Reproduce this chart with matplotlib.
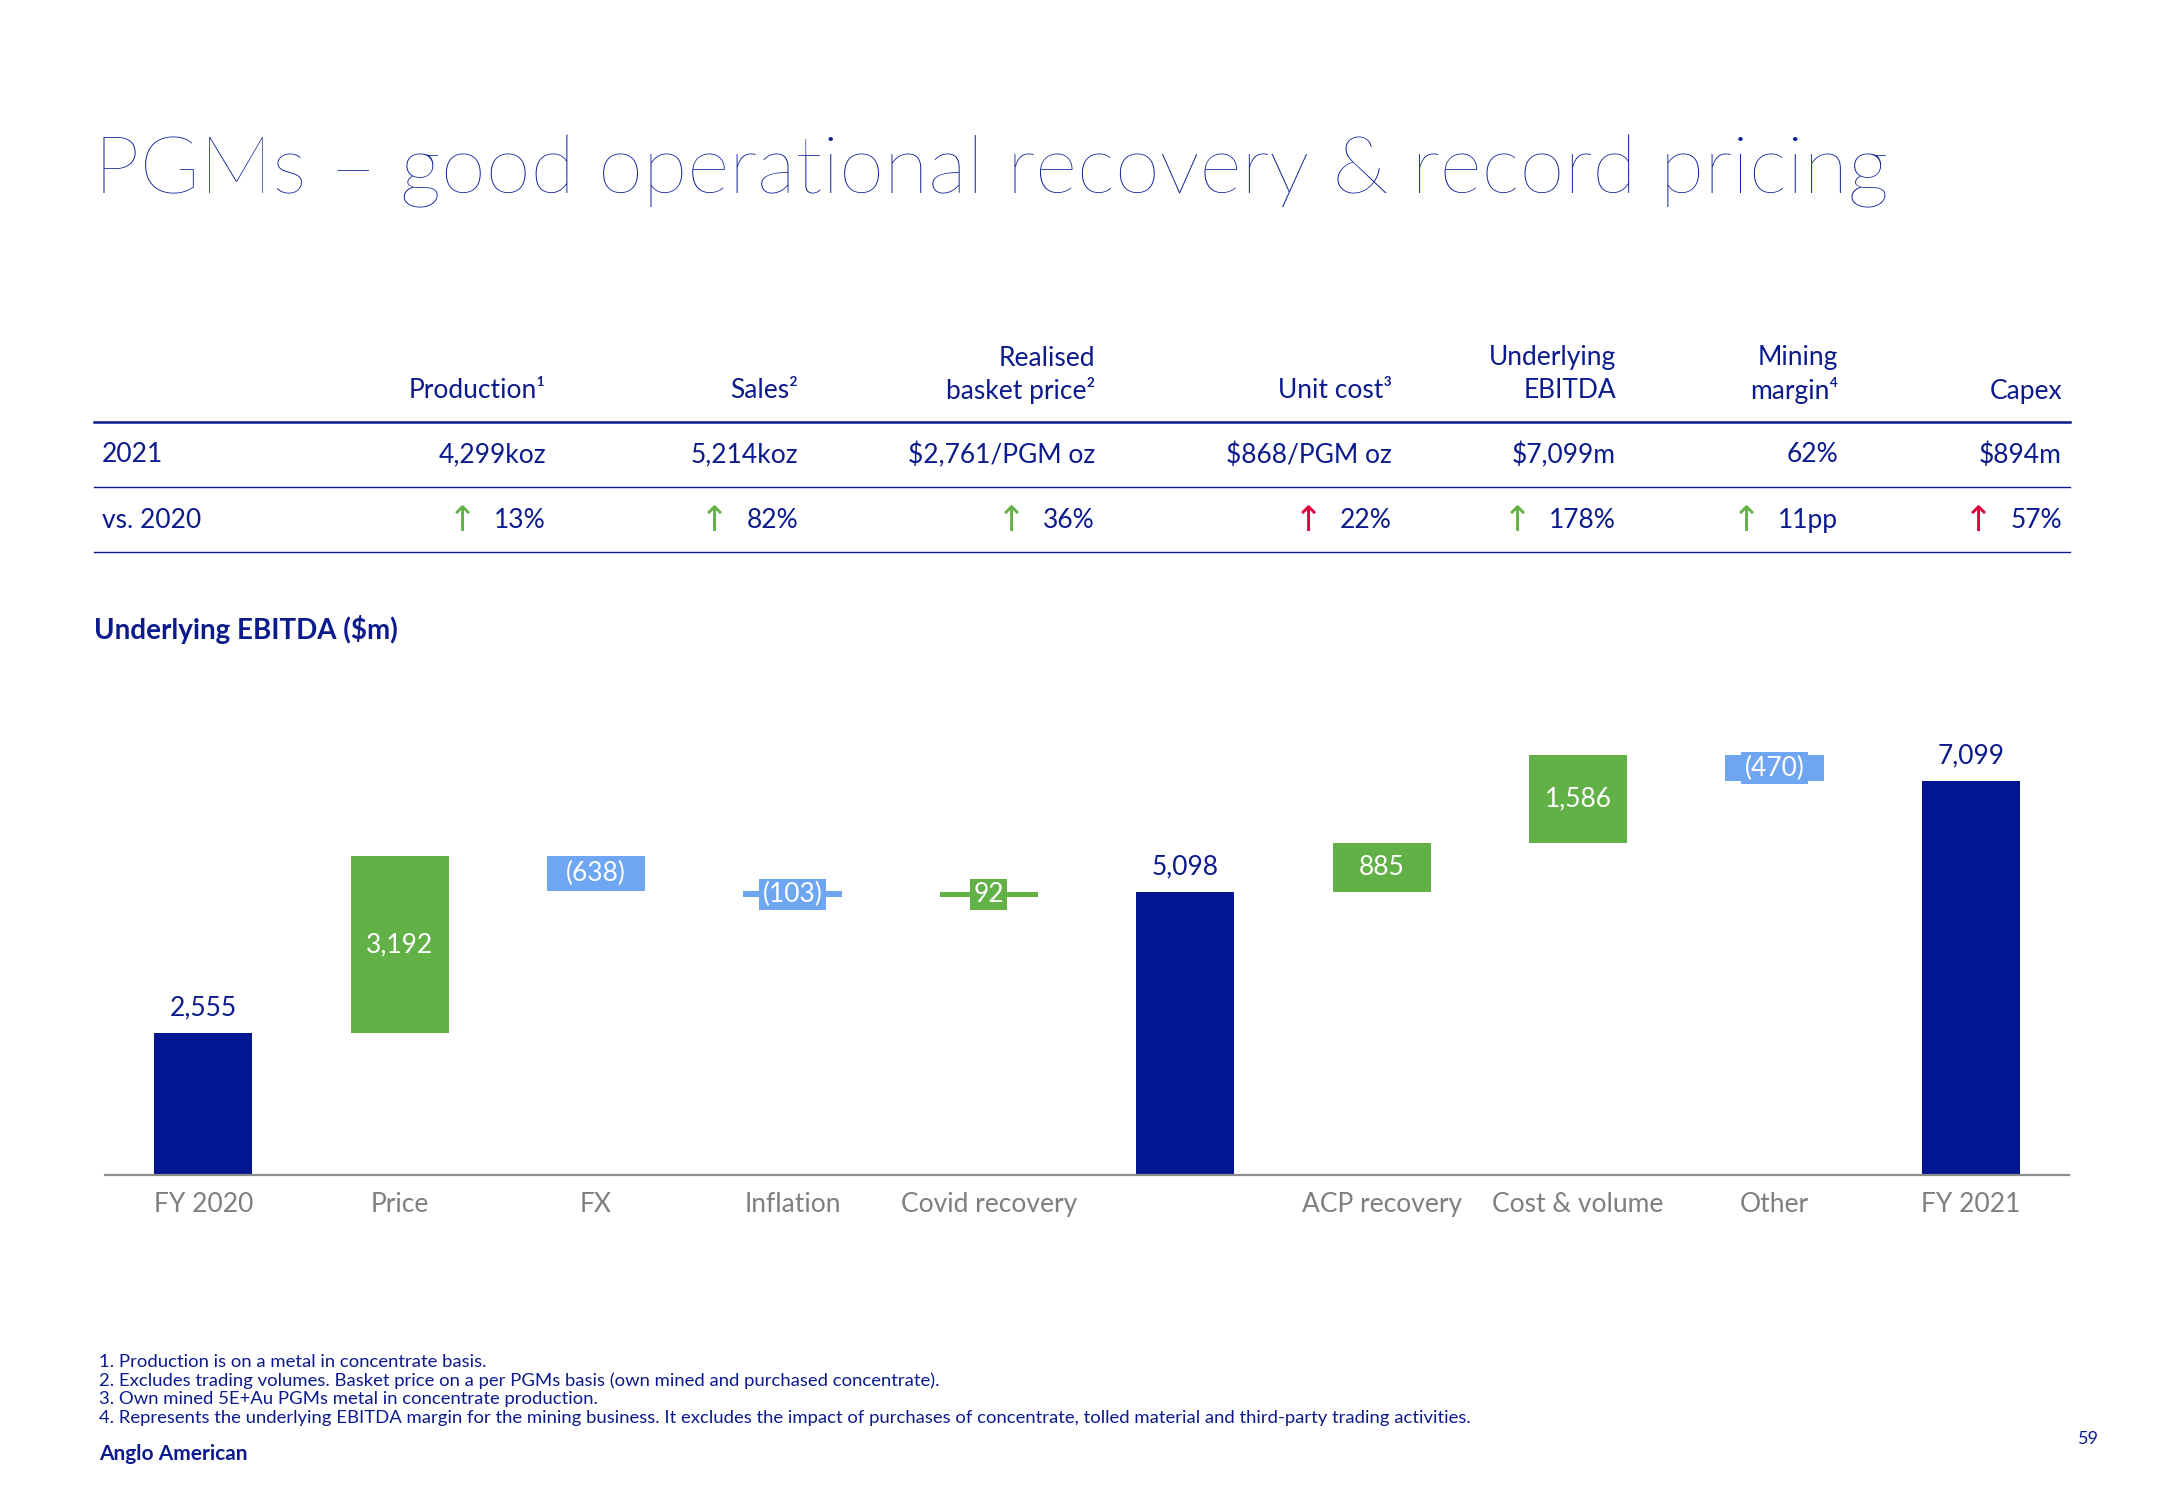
import matplotlib
matplotlib.use("Agg")
import matplotlib.pyplot as plt

plt.rcParams['font.family'] = ['Lato', 'DejaVu Sans']

NAVY = '#0B1A8C'
TITLE_BLUE = '#0A1E96'
BAR_NAVY = '#021691'
GREEN = '#62B146'
LIGHT_BLUE = '#6FA6F2'
RED = '#E2003C'
GREY = '#7F7F7F'

# summary table
header_top = ["", "", "", "Realised", "", "Underlying", "Mining", ""]
header_bottom = ["", "Production¹", "Sales²", "basket price²", "Unit cost³", "EBITDA", "margin⁴", "Capex"]
row_2021 = ["2021", "4,299koz", "5,214koz", "$2,761/PGM oz", "$868/PGM oz", "$7,099m", "62%", "$894m"]
row_vs = ["vs. 2020", "13%", "82%", "36%", "22%", "178%", "11pp", "57%"]
row_good = [None, True, True, True, False, True, True, False]

# waterfall (underlying EBITDA, $m)
steps = ["FY 2020", "Price", "FX", "Inflation", "Covid recovery", "",
         "ACP recovery", "Cost & volume", "Other", "FY 2021"]
values = [2555, 3192, -638, -103, 92, 5098, 885, 1586, -470, 7099]
is_total = [True, False, False, False, False, True, False, False, False, True]

footnotes = [
    "1. Production is on a metal in concentrate basis.",
    "2. Excludes trading volumes. Basket price on a per PGMs basis (own mined and purchased concentrate).",
    "3. Own mined 5E+Au PGMs metal in concentrate production.",
    "4. Represents the underlying EBITDA margin for the mining business. It excludes the impact of purchases of concentrate, tolled material and third-party trading activities.",
]

W, H = 2166, 1500
fig = plt.figure(figsize=(W / 100, H / 100), dpi=100)


def fx(x):
    return x / W


def fy(y):
    return 1 - y / H


# title
fig.text(fx(94), fy(193), "PGMs – good operational recovery & record pricing",
         fontsize=58.6, color=TITLE_BLUE, va='baseline', ha='left', fontweight='light')

# table
col_right = [None, 546, 798, 1095, 1392, 1616, 1838, 2062]
for i in range(1, 8):
    if header_top[i]:
        fig.text(fx(col_right[i]), fy(358), header_top[i], ha='right', va='center',
                 fontsize=19, color=NAVY)
    fig.text(fx(col_right[i]), fy(391), header_bottom[i], ha='right', va='center',
             fontsize=19, color=NAVY)

fig.add_artist(plt.Line2D([fx(94), fx(2070)], [fy(422), fy(422)], color=NAVY, lw=1.8))
fig.add_artist(plt.Line2D([fx(94), fx(2070)], [fy(487), fy(487)], color=NAVY, lw=1.0))
fig.add_artist(plt.Line2D([fx(94), fx(2070)], [fy(552), fy(552)], color=NAVY, lw=1.0))

fig.text(fx(102), fy(455), row_2021[0], ha='left', va='center', fontsize=19, color=NAVY)
fig.text(fx(102), fy(521), row_vs[0], ha='left', va='center', fontsize=19, color=NAVY)

vs_texts = []
for i in range(1, 8):
    fig.text(fx(col_right[i]), fy(455), row_2021[i], ha='right', va='center',
             fontsize=19, color=NAVY)
    t = fig.text(fx(col_right[i]), fy(521), row_vs[i], ha='right', va='center',
                 fontsize=19, color=NAVY)
    vs_texts.append(t)

fig.text(fx(94), fy(630), "Underlying EBITDA ($m)", ha='left', va='center',
         fontsize=20, color=NAVY, fontweight='bold')

# waterfall chart
ax = fig.add_axes([fx(105), fy(1175), fx(2069) - fx(105), fy(700) - fy(1175)])
running = 0
for i, (v, tot) in enumerate(zip(values, is_total)):
    if tot:
        bottom, height, color = 0, v, BAR_NAVY
        running = v
    else:
        bottom = running if v > 0 else running + v
        height = abs(v)
        color = GREEN if v > 0 else LIGHT_BLUE
        running += v
    ax.bar(i, height, bottom=bottom, width=0.5, color=color)
    label = f"{v:,}" if v > 0 else f"({-v:,})"
    if tot:
        ax.annotate(label, (i, v), xytext=(0, 9), textcoords='offset points',
                    ha='center', va='bottom', fontsize=19, color=NAVY)
    else:
        ax.text(i, bottom + height / 2, label, ha='center', va='center',
                fontsize=19, color='white',
                bbox=dict(boxstyle='square,pad=0.12', fc=color, ec='none'))

ax.set_xlim(-0.5, 9.5)
ax.set_ylim(0, 8560)
ax.set_xticks(range(len(steps)))
ax.set_xticklabels(steps, fontsize=19, color=GREY)
ax.tick_params(axis='x', length=0, pad=12)
ax.set_yticks([])
for s in ['top', 'right', 'left']:
    ax.spines[s].set_visible(False)
ax.spines['bottom'].set_color('#8C8C8C')
ax.spines['bottom'].set_linewidth(1.6)

# arrows next to the vs. 2020 values
fig.canvas.draw()
renderer = fig.canvas.get_renderer()
for i, t in enumerate(vs_texts, start=1):
    bb = t.get_window_extent(renderer)
    arrow_color = GREEN if row_good[i] else RED
    fig.text((bb.x0 - 32) / W, fy(521), "↑", ha='center', va='center',
             fontsize=25, color=arrow_color, family='DejaVu Sans')

# footnotes
for k, line in enumerate(footnotes):
    fig.text(fx(99), fy(1362 + k * 18.5), line, ha='left', va='center',
             fontsize=13.3, color=NAVY)
fig.text(fx(99), fy(1454), "Anglo American", ha='left', va='center',
         fontsize=15, color=NAVY, fontweight='bold')
fig.text(fx(2088), fy(1439), "59", ha='center', va='center', fontsize=13, color=NAVY)

fig.savefig("out.png", dpi=100)
